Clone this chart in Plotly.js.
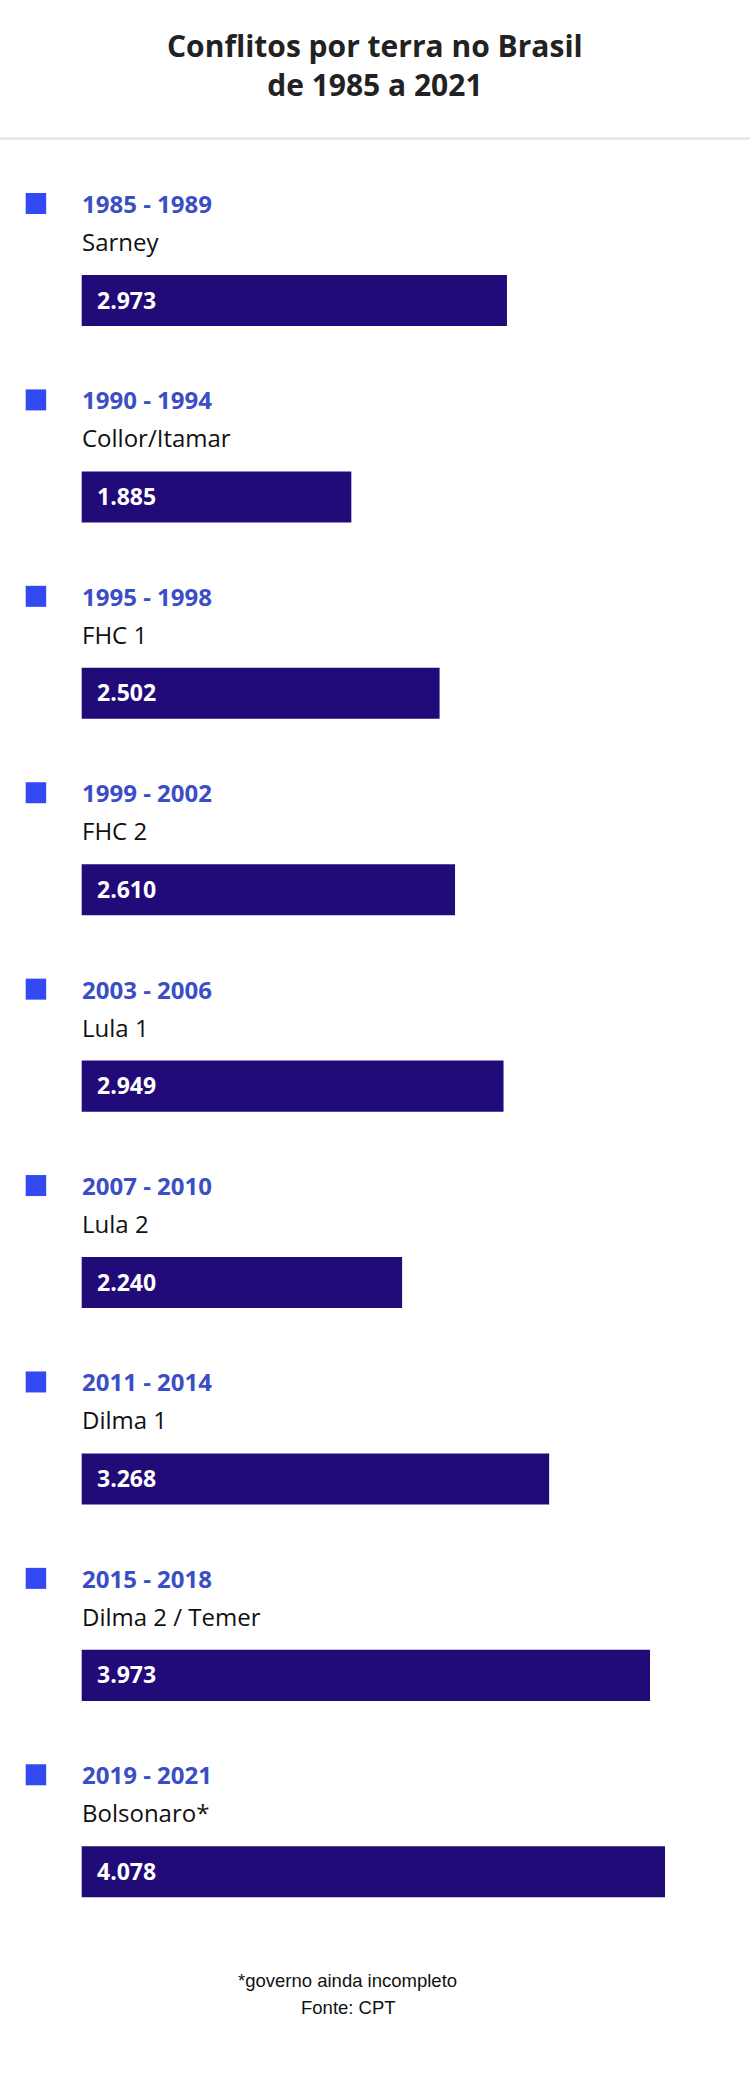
<!DOCTYPE html>
<html>
<head>
<meta charset="utf-8">
<script src="https://cdn.plot.ly/plotly-3.0.1.min.js"></script>
<style>
  html, body { margin: 0; padding: 0; background: #ffffff; }
  #chart { width: 750px; height: 2089px; }
</style>
</head>
<body>
<div id="chart"></div>
<script>
// ---- data ----
const periods = ['1985 - 1989', '1990 - 1994', '1995 - 1998', '1999 - 2002', '2003 - 2006',
                 '2007 - 2010', '2011 - 2014', '2015 - 2018', '2019 - 2021'];
const presidents = ['Sarney', 'Collor/Itamar', 'FHC 1', 'FHC 2', 'Lula 1',
                    'Lula 2', 'Dilma 1', 'Dilma 2 / Temer', 'Bolsonaro*'];
const conflicts = [2973, 1885, 2502, 2610, 2949, 2240, 3268, 3973, 4078];

const titleText = 'Conflitos por terra no Brasil<br>de 1985 a 2021';
const noteText = '*governo ainda incompleto';
const sourceText = 'Fonte: CPT';

// ---- style ----
const W = 750, H = 2089;
const barColor = '#210b78';
const squareColor = '#3349f2';
const periodColor = '#3b4ec6';
const fmt = v => String(v).replace(/\B(?=(\d{3})+(?!\d))/g, '.');

const xRange = [-571, 4672];
const yRange = [9.106, -1.530];

const bar = {
  type: 'bar',
  orientation: 'h',
  y: periods,
  x: conflicts,
  width: 0.26,
  marker: { color: barColor, line: { width: 0 } },
  hoverinfo: 'skip',
  showlegend: false
};

const annotations = [];
const shapes = [];

periods.forEach((p, i) => {
  annotations.push({
    xref: 'x', yref: 'y', x: 0, y: p, xanchor: 'left', yanchor: 'middle',
    xshift: -2, yshift: 97, showarrow: false, text: '<b>' + p + '</b>',
    font: { family: 'Open Sans', size: 24, color: periodColor }
  });
  annotations.push({
    xref: 'x', yref: 'y', x: 0, y: p, xanchor: 'left', yanchor: 'middle',
    xshift: -2, yshift: 59, showarrow: false, text: presidents[i],
    font: { family: 'Open Sans', size: 24, color: '#111111' }
  });
  annotations.push({
    xref: 'x', yref: 'y', x: 0, y: p, xanchor: 'left', yanchor: 'middle',
    xshift: 13, yshift: 1, showarrow: false, text: '<b>' + fmt(conflicts[i]) + '</b>',
    font: { family: 'Open Sans', size: 23, color: '#ffffff' }
  });
  shapes.push({
    type: 'rect', xref: 'x', yref: 'y',
    xsizemode: 'pixel', xanchor: 0, x0: -56, x1: -35.5,
    ysizemode: 'pixel', yanchor: i, y0: 86.5, y1: 107.5,
    fillcolor: squareColor, line: { width: 0 }
  });
});

// title
annotations.push({
  xref: 'paper', yref: 'paper', x: 0.5, y: 1 - 65 / H, xanchor: 'center', yanchor: 'middle',
  showarrow: false, text: '<b>' + titleText + '</b>',
  font: { family: 'Open Sans', size: 30, color: '#222222' }
});
// footnotes
annotations.push({
  xref: 'paper', yref: 'paper', x: 347 / W, y: 1 - 1980.3 / H, xanchor: 'center', yanchor: 'middle',
  showarrow: false, text: noteText,
  font: { family: 'Liberation Sans', size: 18.5, color: '#111111' }
});
annotations.push({
  xref: 'paper', yref: 'paper', x: 348 / W, y: 1 - 2007.6 / H, xanchor: 'center', yanchor: 'middle',
  showarrow: false, text: sourceText,
  font: { family: 'Liberation Sans', size: 18.5, color: '#111111' }
});

// separator line under title
shapes.push({
  type: 'line', xref: 'paper', yref: 'paper', x0: 0, x1: 1,
  y0: 1 - 138.5 / H, y1: 1 - 138.5 / H,
  line: { color: '#e6e6e6', width: 2.5 }
});

const layout = {
  width: W, height: H,
  margin: { l: 0, r: 0, t: 0, b: 0, pad: 0 },
  paper_bgcolor: '#ffffff', plot_bgcolor: '#ffffff',
  xaxis: { range: xRange, visible: false, showgrid: false, zeroline: false, fixedrange: true },
  yaxis: { type: 'category', range: yRange, visible: false, showgrid: false, zeroline: false, fixedrange: true },
  annotations: annotations,
  shapes: shapes,
  showlegend: false,
  hovermode: false
};

Plotly.newPlot('chart', [bar], layout, { staticPlot: true, displayModeBar: false });
</script>
</body>
</html>
